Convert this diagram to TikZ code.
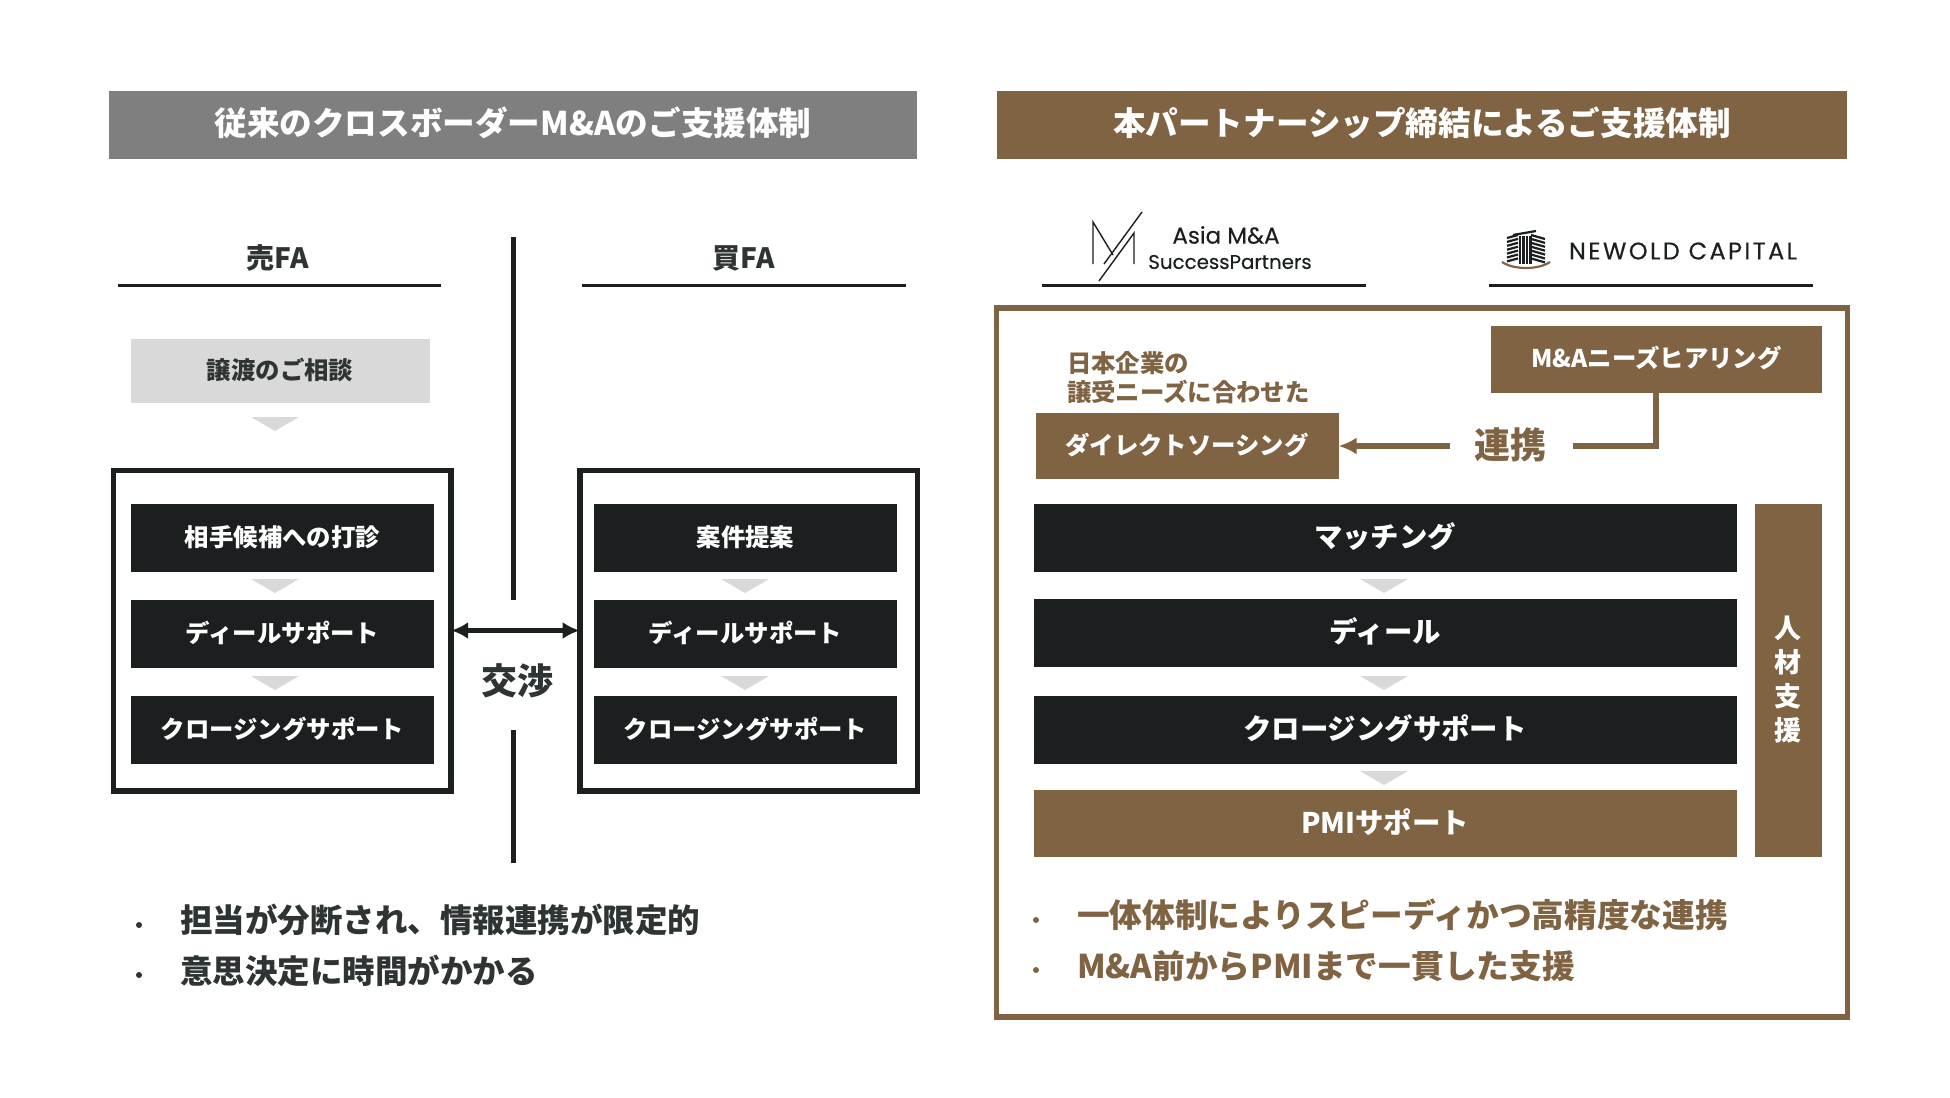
\documentclass[tikz,border=0pt]{standalone}
\usepackage{fontspec}
\usepackage{xcolor}
\setmainfont{Noto Sans CJK JP}
\newfontfamily\logofont[FakeBold=0.3]{Poppins}
\usetikzlibrary{arrows.meta,positioning}
\definecolor{inkdark}{HTML}{1B1F1F}
\definecolor{brownmain}{HTML}{7F6343}
\definecolor{greyhead}{HTML}{7F7F7F}
\definecolor{greylight}{HTML}{D9D9D9}
\definecolor{inktext}{HTML}{2E3333}

\begin{document}
\begin{tikzpicture}[x=0.5pt,y=-0.5pt,
  every node/.style={font=\bfseries,inner sep=0pt,outer sep=0pt,text=inktext},
  headbox/.style={minimum height=34pt,text height=14pt,text depth=3.2pt,font=\bfseries\fontsize{16.3}{18}\selectfont,text=white},
  stepdark/.style={fill=inkdark,minimum height=34pt,text height=10pt,text depth=2pt,text=white,font=\bfseries\fontsize{12.2}{14}\selectfont},
  stepbig/.style={fill=inkdark,minimum width=351.5pt,minimum height=34pt,text height=11.5pt,text depth=2pt,text=white,font=\bfseries\fontsize{14.2}{16}\selectfont},
  stepbrown/.style={fill=brownmain,text height=10pt,text depth=2pt,text=white,font=\bfseries\fontsize{12.2}{14}\selectfont},
  frame/.style={draw=inkdark,line width=2.8pt,fill=white},
  rule/.style={draw=inkdark,line width=1.5pt},
  tri/.style={fill=greylight},
  bul/.style={anchor=west,font=\bfseries\fontsize{16.25}{18}\selectfont},
  bulb/.style={anchor=west,text=brownmain,font=\bfseries\fontsize{16.35}{18}\selectfont},
  lnk/.style={brownmain,line width=2.7pt}]
 \useasboundingbox (0,0) rectangle (1950,1098);
 % titles
 \node[headbox,fill=greyhead,minimum width=404pt] (hl) at (513,125) {従来のクロスボーダーM\&Aのご支援体制};
 \node[headbox,fill=brownmain,minimum width=425pt] (hr) at (1422,125) {本パートナーシップ締結によるご支援体制};
 % left side
 \node[font=\bfseries\fontsize{14}{16}\selectfont] (sell) at (278,258) {売FA};
 \node[font=\bfseries\fontsize{14}{16}\selectfont] (buy) at (744,258) {買FA};
 \coordinate (sa) at (118,285); \coordinate (sb) at (441,285);
 \coordinate (ba) at (582,285); \coordinate (bb) at (906,285);
 \draw[rule] (sa) -- (sb);
 \draw[rule] (ba) -- (bb);
 \coordinate (va) at (513.5,237); \coordinate (vb) at (513.5,600);
 \coordinate (vc) at (513.5,730); \coordinate (vd) at (513.5,863);
 \draw[inkdark,line width=2.6pt] (va) -- (vb);
 \draw[inkdark,line width=2.6pt] (vc) -- (vd);
 \node[fill=greylight,minimum width=149.5pt,minimum height=32pt,text height=10pt,text depth=2pt,font=\bfseries\fontsize{12.2}{14}\selectfont] (consult) at (280,371) {譲渡のご相談};
 \node[frame,minimum width=168.8pt,minimum height=160.2pt] (fl) at (282.3,630.5) {};
 \node[frame,minimum width=168.8pt,minimum height=160.2pt] (fr) at (748.5,630.5) {};
 \node[stepdark,minimum width=151.5pt] (l1) at (282.5,538) {相手候補への打診};
 \node[stepdark,minimum width=151.5pt] (l2) at (282.5,634) {ディールサポート};
 \node[stepdark,minimum width=151.5pt] (l3) at (282.5,730) {クロージングサポート};
 \node[stepdark,minimum width=151.5pt] (r1) at (745.5,538) {案件提案};
 \node[stepdark,minimum width=151.5pt] (r2) at (745.5,634) {ディールサポート};
 \node[stepdark,minimum width=151.5pt] (r3) at (745.5,730) {クロージングサポート};
 \draw[inkdark,line width=2.2pt,{Latex[length=8.5pt,width=8.5pt]}-{Latex[length=8.5pt,width=8.5pt]}] (fl.east) -- (fr.west);
 \node[font=\bfseries\fontsize{18}{20}\selectfont] (nego) at (517,681) {交渉};
 % right side
 \node[draw=brownmain,line width=2.6pt,fill=white,minimum width=425.3pt,minimum height=354.5pt] (fb) at (1422,662.5) {};
 \coordinate (ma) at (1042,285); \coordinate (mb) at (1366,285);
 \coordinate (na) at (1489,285); \coordinate (nb) at (1813,285);
 \draw[rule] (ma) -- (mb);
 \draw[rule] (na) -- (nb);
 \node[font=\logofont\fontsize{11.5}{12}\selectfont,text=inkdark] (asia) at (1226,235) {Asia M\&A};
 \node[font=\logofont\fontsize{9.9}{12}\selectfont,text=inkdark] (asib) at (1230,262) {SuccessPartners};
 \node[font=\logofont\fontsize{12}{12}\selectfont\addfontfeature{LetterSpace=10},text=inkdark] (newold) at (1683,251) {NEWOLD CAPITAL};
 % logos
 \draw[inkdark,line width=0.7pt] (1093,264) -- (1093,222) -- (1113,255);
 \draw[inkdark,line width=0.7pt] (1099,281) -- (1134,233) -- (1134,264);
 \draw[inkdark,line width=0.7pt] (1104,264) -- (1142,212);
 \foreach \y in {0,1,...,6} {
  \draw[inkdark,line width=1.1pt] (1507,238+3.9*\y) -- (1518,235+3.9*\y);
  \draw[inkdark,line width=1.1pt] (1531,235+3.9*\y) -- (1545,239+3.9*\y); }
 \foreach \x in {1520,1523.5,...,1531} \draw[inkdark,line width=1.1pt] (\x,236) -- (\x,264);
 \draw[inkdark,line width=1.1pt] (1513,235) -- (1536,231);
 \draw[brownmain,line width=1.1pt] (1502,262) .. controls (1514,270) and (1538,270) .. (1550,262);
 % boxes
 \node[stepbrown,minimum width=165.5pt,minimum height=33.5pt] (need) at (1656.5,359.5) {M\&Aニーズヒアリング};
 \node[stepbrown,minimum width=151.5pt,minimum height=33pt] (direct) at (1187,446) {ダイレクトソーシング};
 \node[anchor=west,align=left,text=brownmain,font=\bfseries\fontsize{12.2}{14.5}\selectfont] (note) at (1067,378) {日本企業の\\譲受ニーズに合わせた};
 \node[text=brownmain,font=\bfseries\fontsize{18}{20}\selectfont] (link) at (1510,445) {連携};
 \coordinate (cr) at (1656,446);
 \coordinate (la) at (1450,446); \coordinate (lb) at (1573,446);
 \draw[lnk,-{Latex[length=9pt,width=8.5pt]}] (la) -- (direct.east);
 \draw[lnk] (lb) -- (cr) -- (need.south -| cr);
 \node[stepbig] (m1) at (1385,538) {マッチング};
 \node[stepbig] (m2) at (1385,633) {ディール};
 \node[stepbig] (m3) at (1385,730) {クロージングサポート};
 \node[stepbig,fill=brownmain,minimum height=33.5pt] (m4) at (1385,823.5) {PMIサポート};
 \node[fill=brownmain,minimum width=33.5pt,minimum height=176.5pt,align=center,text=white,font=\bfseries\fontsize{13.5}{17}\selectfont] (side) at (1788,680) {人\\材\\支\\援};
 % small arrows
 \foreach \x/\y in {275/417,275/579,275/676,745/579,745/676,1384/579,1384/676,1384/771}
  \fill[tri] (\x-24,\y) -- (\x+24,\y) -- (\x,\y+14) -- cycle;
 % bullets
 \node[bul] (t1) at (180,920) {担当が分断され、情報連携が限定的};
 \node[bul] (t2) at (180,971) {意思決定に時間がかかる};
 \node[bulb] (t3) at (1077,915) {一体体制によりスピーディかつ高精度な連携};
 \node[bulb] (t4) at (1077,966) {M\&A前からPMIまで一貫した支援};
 \foreach \c/\x/\y in {inktext/139/925,inktext/139/975,brownmain/1036/920,brownmain/1036/970}
  \fill[\c] (\x,\y) circle (1.5pt);
\end{tikzpicture}
\end{document}
